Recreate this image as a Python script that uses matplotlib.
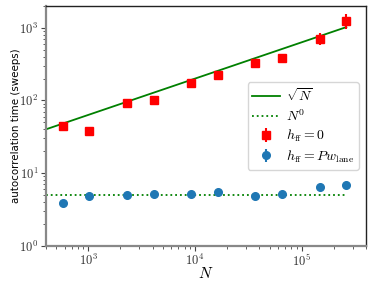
import numpy as np
import matplotlib
matplotlib.use("Agg")
from matplotlib import pyplot as plt
from matplotlib.ticker import FuncFormatter

plt.rcParams['mathtext.fontset'] = 'cm'
plt.rcParams['font.size'] = 10

# system sizes (L^2)
N = [576, 1024, 2304, 4096, 9216, 16384, 36864, 65536, 147456, 262144]
# autocorrelation times, h_ff = 0
tau_zero = [45, 38, 91, 103, 175, 221, 333, 390, 712, 1260]
err_zero = [4, 3, 8, 8, 15, 20, 30, 35, 130, 300]
# autocorrelation times, h_ff = P w_lane
tau_lane = [3.85, 4.88, 4.98, 5.19, 5.14, 5.42, 4.83, 5.19, 6.35, 6.9]
err_lane = [0.1, 0.1, 0.1, 0.1, 0.1, 0.15, 0.1, 0.15, 0.2, 0.3]

n_line = np.array([400, 262144])

fig = plt.figure(figsize=(3.73, 2.85), dpi=100)
ax = fig.add_axes([0.123, 0.138, 0.858, 0.841])

ax.plot(n_line, 2 * np.sqrt(n_line), color='green', lw=1.3, label=r'$\sqrt{N}$')
ax.plot(n_line, 5 * n_line**0, color='green', ls=':', lw=1.3, label=r'$N^0$')
ax.errorbar(N, tau_zero, yerr=err_zero, fmt='s', color='red', markersize=5.5,
            label=r'$h_{\rm ff}=0$')
ax.errorbar(N, tau_lane, yerr=err_lane, fmt='o', color='tab:blue', markersize=5.5,
            label=r'$h_{\rm ff}=Pw_{\rm lane}$')

ax.set_xscale('log')
ax.set_yscale('log')
ax.set_xlim(400, 4e5)
ax.set_ylim(1, 2000)

fmt = FuncFormatter(lambda v, p: r'$10^{%d}$' % round(np.log10(v)))
ax.xaxis.set_major_formatter(fmt)
ax.yaxis.set_major_formatter(fmt)

for side in ['left', 'bottom']:
    ax.spines[side].set_color('#888888')
    ax.spines[side].set_linewidth(1.6)
for side in ['top', 'right']:
    ax.spines[side].set_color('#222222')
    ax.spines[side].set_linewidth(1.0)
ax.tick_params(which='both', color='#444444', labelcolor='#333333', pad=2,
               labelsize=9)
ax.tick_params(which='major', length=3.5)
ax.tick_params(which='minor', length=2)

ax.set_xlabel(r'$N$', fontsize=11, labelpad=-2)
ax.set_ylabel('autocorrelation time (sweeps)', fontsize=7.4)
ax.yaxis.set_label_coords(-0.079, 0.5)
ax.legend(loc='center right', fontsize=10, handlelength=2.0, handletextpad=0.4,
          labelspacing=0.3, borderpad=0.35)

fig.savefig('out.png', dpi=100)
